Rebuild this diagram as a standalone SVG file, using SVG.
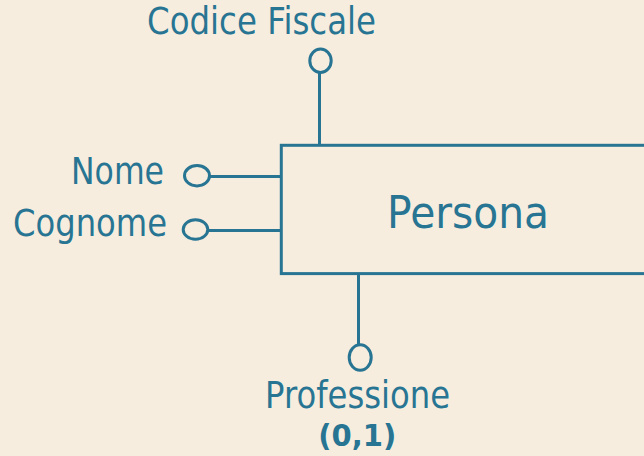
<svg xmlns="http://www.w3.org/2000/svg" width="644" height="456" viewBox="0 0 644 456">
  <style>
    .t { font-family: "DejaVu Sans", "Liberation Sans", sans-serif; fill: #287593; font-size: 37px; }
    .b { font-weight: bold; font-size: 30px; }
    .s { fill: none; stroke: #287593; stroke-width: 3; }
  </style>
  <rect width="644" height="456" fill="#F7EDDF"/>
  <g id="connectors">
    <line class="s" x1="319.5" y1="72.5" x2="319.5" y2="145"/>
    <line class="s" x1="209.5" y1="176.5" x2="281" y2="176.5"/>
    <line class="s" x1="207.8" y1="230.5" x2="281" y2="230.5"/>
    <line class="s" x1="358.5" y1="274" x2="358.5" y2="345"/>
  </g>
  <g id="persona">
    <rect class="s" x="281.3" y="145.3" width="420" height="128.3"/>
    <text class="t" x="387" y="228.3" font-size="45" style="font-size:45px" textLength="162" lengthAdjust="spacingAndGlyphs">Persona</text>
  </g>
  <g id="codice-fiscale">
    <ellipse class="s" cx="320.5" cy="60.8" rx="10.7" ry="11.7"/>
    <text class="t" x="147" y="34.3" textLength="229" lengthAdjust="spacingAndGlyphs">Codice Fiscale</text>
  </g>
  <g id="nome">
    <ellipse class="s" cx="197" cy="175.7" rx="12.5" ry="10.2"/>
    <text class="t" x="71" y="184.4" textLength="93" lengthAdjust="spacingAndGlyphs">Nome</text>
  </g>
  <g id="cognome">
    <ellipse class="s" cx="195.5" cy="229.5" rx="12.3" ry="9.7"/>
    <text class="t" x="13" y="236.3" textLength="154" lengthAdjust="spacingAndGlyphs">Cognome</text>
  </g>
  <g id="professione">
    <ellipse class="s" cx="360.2" cy="357.5" rx="11" ry="12.7"/>
    <text class="t" x="265" y="407.6" textLength="185" lengthAdjust="spacingAndGlyphs">Professione</text>
    <text class="t b" x="318.3" y="446" textLength="78" lengthAdjust="spacingAndGlyphs">(0,1)</text>
  </g>
</svg>
